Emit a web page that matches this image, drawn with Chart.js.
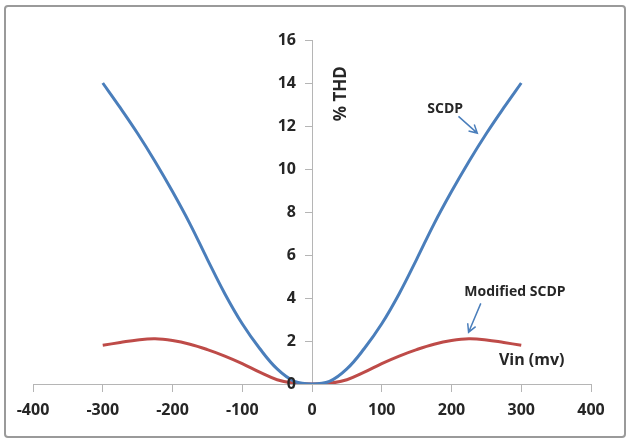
<!DOCTYPE html>
<html>
<head>
<meta charset="utf-8">
<script src="https://cdn.jsdelivr.net/npm/chart.js@4.4.1/dist/chart.umd.min.js"></script>
<style>
  html, body { margin: 0; padding: 0; background: #fff; }
  canvas { display: block; }
</style>
</head>
<body>
<canvas id="thdChart" width="630" height="443"></canvas>
<script>
// Vin (mV) sample points
const vinValues = [-300, -275, -250, -225, -200, -175, -150, -125, -100, -75, -50, -25, 0,
                   25, 50, 75, 100, 125, 150, 175, 200, 225, 250, 275, 300];
// %THD
const scdpValues = [14, 12.85, 11.65, 10.35, 8.95, 7.45, 5.8, 4.2, 2.8, 1.65, 0.7, 0.12, 0,
                    0.12, 0.7, 1.65, 2.8, 4.2, 5.8, 7.45, 8.95, 10.35, 11.65, 12.85, 14];
const modifiedValues = [1.8, 1.93, 2.05, 2.1, 2.02, 1.85, 1.6, 1.3, 0.95, 0.55, 0.2, 0.03, 0,
                        0.03, 0.2, 0.55, 0.95, 1.3, 1.6, 1.85, 2.02, 2.1, 2.05, 1.93, 1.8];

const xTicks = [-400, -300, -200, -100, 0, 100, 200, 300, 400];
const yTicks = [0, 2, 4, 6, 8, 10, 12, 14, 16];

// text notes placed in data units
const noteTexts = ['SCDP', 'Modified SCDP', 'Vin (mv)'];
const noteX = [191, 291, 315];
const noteY = [12.8, 4.26, 1.1];
const noteSize = [14, 14, 16];

// arrows: from (x0,y0) to head (x1,y1), data units
const arrowFromX = [210, 242];
const arrowFromY = [12.45, 3.75];
const arrowToX = [237, 224.5];
const arrowToY = [11.67, 2.41];

const blue = '#4a7ebb';
const red = '#be4b48';
const textColor = '#262626';
const axisColor = '#b5b5b5';
const fontFamily = "'Open Sans', 'Liberation Sans', sans-serif";

function toPoints(values) {
  return vinValues.map((v, i) => ({ x: v, y: values[i] }));
}

const notesPlugin = {
  id: 'notes',
  beforeDraw(chart) {
    const ctx = chart.ctx;
    ctx.save();
    ctx.strokeStyle = '#9a9a9a';
    ctx.lineWidth = 2;
    ctx.beginPath();
    ctx.roundRect(5, 6, 620, 431, 3);
    ctx.stroke();
    ctx.restore();
  },
  afterDraw(chart) {
    const ctx = chart.ctx;
    const xs = chart.scales.x;
    const ys = chart.scales.y;
    ctx.save();
    ctx.fillStyle = textColor;

    // y tick labels, left of the centred axis
    const axisX = xs.getPixelForValue(0);
    ctx.font = 'bold 16px ' + fontFamily;
    ctx.textAlign = 'right';
    ctx.textBaseline = 'middle';
    ys.ticks.forEach(t => {
      ctx.fillText(String(t.value), axisX - 16, ys.getPixelForValue(t.value));
    });

    ctx.textAlign = 'center';
    noteTexts.forEach((t, i) => {
      ctx.font = 'bold ' + noteSize[i] + 'px ' + fontFamily;
      ctx.fillText(t, xs.getPixelForValue(noteX[i]), ys.getPixelForValue(noteY[i]));
    });

    // y axis title, rotated, right of the axis
    ctx.save();
    ctx.translate(xs.getPixelForValue(42), ys.getPixelForValue(13.5));
    ctx.rotate(-Math.PI / 2);
    ctx.font = 'bold 17px ' + fontFamily;
    ctx.fillText('% THD', 0, 0);
    ctx.restore();

    // arrows
    ctx.strokeStyle = blue;
    ctx.lineWidth = 1.5;
    arrowFromX.forEach((fx, i) => {
      const x0 = xs.getPixelForValue(fx), y0 = ys.getPixelForValue(arrowFromY[i]);
      const x1 = xs.getPixelForValue(arrowToX[i]), y1 = ys.getPixelForValue(arrowToY[i]);
      const a = Math.atan2(y1 - y0, x1 - x0);
      ctx.beginPath();
      ctx.moveTo(x0, y0);
      ctx.lineTo(x1, y1);
      ctx.moveTo(x1 - 9 * Math.cos(a - 0.5), y1 - 9 * Math.sin(a - 0.5));
      ctx.lineTo(x1, y1);
      ctx.lineTo(x1 - 9 * Math.cos(a + 0.5), y1 - 9 * Math.sin(a + 0.5));
      ctx.stroke();
    });
    ctx.restore();
  }
};

new Chart(document.getElementById('thdChart').getContext('2d'), {
  type: 'line',
  data: {
    datasets: [
      { label: 'SCDP', data: toPoints(scdpValues), borderColor: blue, borderWidth: 3,
        pointRadius: 0, tension: 0.4, fill: false },
      { label: 'Modified SCDP', data: toPoints(modifiedValues), borderColor: red, borderWidth: 3,
        pointRadius: 0, tension: 0.4, fill: false }
    ]
  },
  options: {
    responsive: false,
    animation: false,
    layout: { padding: { left: 33, right: 39, top: 40, bottom: 59 } },
    plugins: { legend: { display: false }, tooltip: { enabled: false } },
    scales: {
      x: {
        type: 'linear',
        position: { y: 0 },
        min: -400, max: 400,
        afterBuildTicks: (s) => { s.ticks = xTicks.map(v => ({ value: v })); },
        ticks: { color: textColor, padding: 10, maxRotation: 0,
                 font: { family: fontFamily, size: 16, weight: 'bold' } },
        grid: { drawOnChartArea: false, drawTicks: true, tickLength: 7, color: axisColor },
        border: { color: axisColor, width: 1 }
      },
      y: {
        type: 'linear',
        position: { x: 0 },
        min: 0, max: 16,
        afterBuildTicks: (s) => { s.ticks = yTicks.map(v => ({ value: v })); },
        ticks: { display: false },
        grid: { drawOnChartArea: false, drawTicks: true, tickLength: 7, color: axisColor },
        border: { color: axisColor, width: 1 }
      }
    }
  },
  plugins: [notesPlugin]
});
</script>
</body>
</html>
